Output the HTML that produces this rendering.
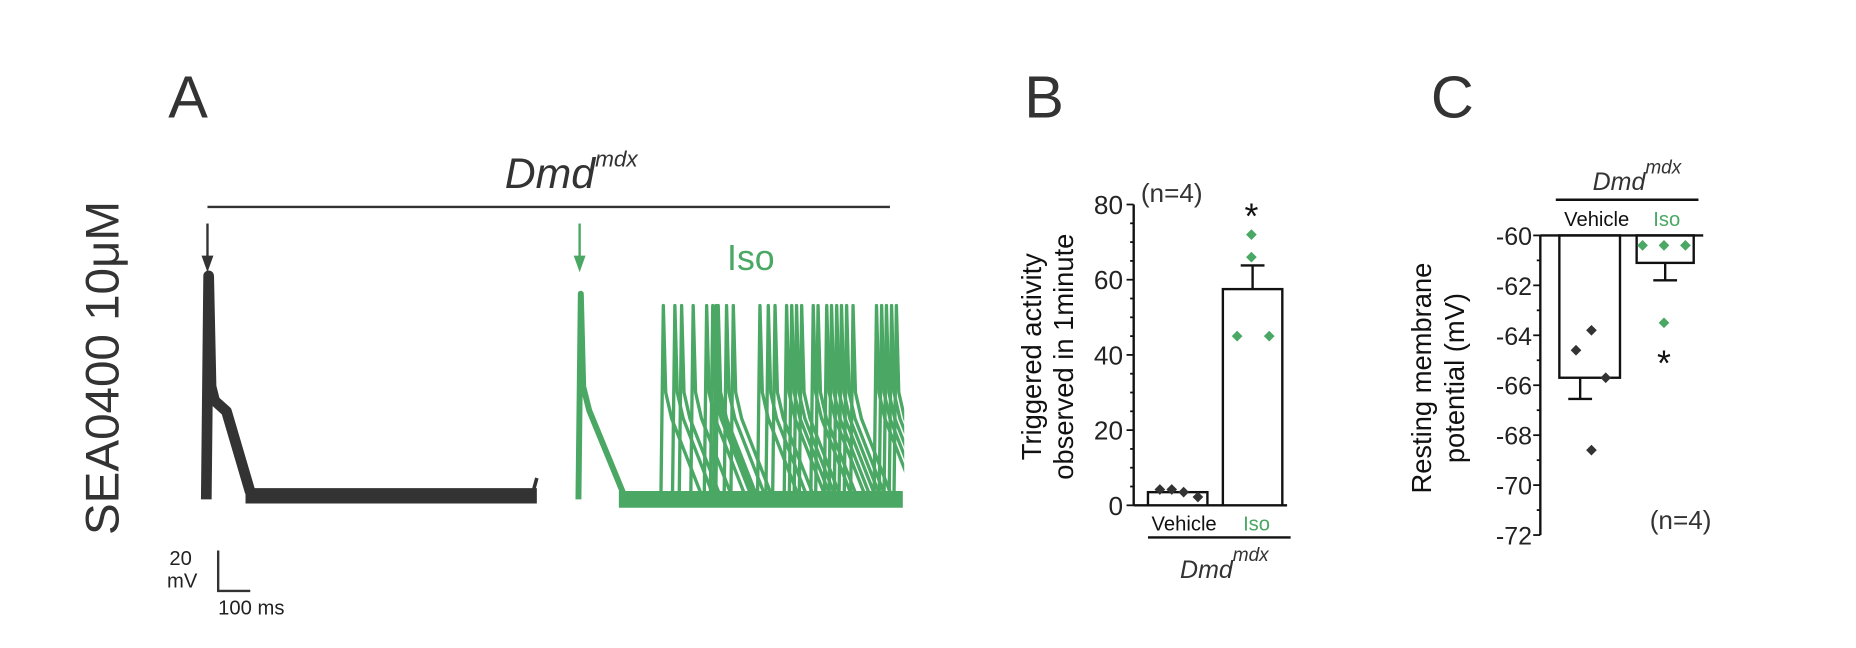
<!DOCTYPE html>
<html><head><meta charset="utf-8"><style>
html,body{margin:0;padding:0;background:#fff;}
svg{display:block;font-family:"Liberation Sans",Arial,sans-serif;}
</style></head><body>
<svg id="fig" width="1856" height="648" viewBox="0 0 1560 545">
<defs><clipPath id="isoClip"><rect x="480" y="200" width="280" height="240"/></clipPath></defs>
<g id="panelA">
  <text x="141" y="99" font-size="50" fill="#333">A</text>
  <text transform="translate(99,450) rotate(-90)" font-size="40" fill="#333">SEA0400 10μM</text>
  <text x="424" y="158" font-size="36" font-style="italic" fill="#333">Dmd<tspan font-size="19" dy="-18">mdx</tspan></text>
  <line x1="174" y1="174" x2="748" y2="174" stroke="#333" stroke-width="2"/>
  <g><line x1="174" y1="188" x2="174" y2="222" stroke="#333" stroke-width="2"/><path d="M169,215 L174,229 L179,215 Z" fill="#333"/></g>
  <g><line x1="487" y1="188" x2="487" y2="222" stroke="#4aa864" stroke-width="2"/><path d="M482,215 L487,229 L492,215 Z" fill="#4aa864"/></g>
  <text x="611" y="227" font-size="30" fill="#4aa864">Iso</text>
  <g id="traces"></g>
  <g>
    <path d="M183,463 L183,497 L210,497" fill="none" stroke="#333" stroke-width="2"/>
    <text x="142" y="475" font-size="17" fill="#222">20</text>
    <text x="140" y="494" font-size="17" fill="#222">mV</text>
    <text x="183" y="517" font-size="17" fill="#222">100 ms</text>
  </g>
</g>
<g id="panelB">
  <text x="861" y="99" font-size="50" fill="#333">B</text>
  <text transform="translate(875,300) rotate(-90)" font-size="23" text-anchor="middle" fill="#111">Triggered activity</text>
  <text transform="translate(902,300) rotate(-90)" font-size="23" text-anchor="middle" fill="#111">observed in 1minute</text>
  <text x="959" y="170" font-size="22" fill="#333">(n=4)</text>
  <g id="chartB"></g>
  <text x="968" y="446" font-size="17" fill="#111">Vehicle</text>
  <text x="1045" y="446" font-size="17" fill="#4aa864">Iso</text>
  <line x1="965" y1="452" x2="1085" y2="452" stroke="#111" stroke-width="2"/>
  <text x="992" y="486" font-size="21" font-style="italic" fill="#333">Dmd<tspan font-size="16" dy="-14">mdx</tspan></text>
</g>
<g id="panelC">
  <text x="1203" y="99" font-size="50" fill="#333">C</text>
  <text x="1339" y="160" font-size="21" font-style="italic" fill="#333">Dmd<tspan font-size="16" dy="-14">mdx</tspan></text>
  <line x1="1308" y1="168" x2="1428" y2="168" stroke="#111" stroke-width="2"/>
  <text x="1315" y="190" font-size="17" fill="#111">Vehicle</text>
  <text x="1390" y="190" font-size="17" fill="#4aa864">Iso</text>
  <text transform="translate(1203,318) rotate(-90)" font-size="23" text-anchor="middle" fill="#111">Resting membrane</text>
  <text transform="translate(1231,318) rotate(-90)" font-size="23" text-anchor="middle" fill="#111">potential (mV)</text>
  <text x="1387" y="445" font-size="22" fill="#333">(n=4)</text>
  <g id="chartC"></g>
</g>
</svg>
<script>
// ----- Panel A data -----
const isoSpikeTimesMs = [257,293,314,350,392,411,421,428,454,475,558,584,605,641,657,672,688,724,739,766,781,797,812,828,848,921,937,952,968,983];
const vehicleTraceEndMs = 1026;
const isoTraceEndMs = 1003;
// ----- Panel B data -----
const bCategories = ["Vehicle","Iso"];
const bMeans = [3.5, 57.5];
const bErrors = [0, 6.3];
const bPointsVehicle = [4.2, 4.2, 3.5, 2.2];
const bPointsIso = [45, 45, 66, 72];
const bTicks = [0,20,40,60,80];
// ----- Panel C data -----
const cCategories = ["Vehicle","Iso"];
const cMeans = [-65.7, -61.1];
const cErrors = [0.85, 0.7];
const cPointsVehicle = [-64.6, -63.8, -65.7, -68.6];
const cPointsIso = [-60.4, -60.4, -60.4, -63.5];
const cTicks = [-60,-62,-64,-66,-68,-70,-72];

const NS = "http://www.w3.org/2000/svg";
function mk(tag, attrs, parent){const e=document.createElementNS(NS,tag);for(const k in attrs)e.setAttribute(k,attrs[k]);parent.appendChild(e);return e;}

const tr = document.getElementById('traces');
const pxPerMs = 0.27;
const xV = t => 174 + t*pxPerMs;
const xI = t => 488 + t*pxPerMs;
const BLACK="#333", GREEN="#4aa864";
let p = mk('path',{d:`M173,420 L175,232 L177,325 L180,337 L190,346 L210,414`,fill:'none',stroke:BLACK,'stroke-width':9,'stroke-linejoin':'round'},tr);


p = mk('path',{d:`M206,417 L${xV(vehicleTraceEndMs)},417`,fill:'none',stroke:BLACK,'stroke-width':13},tr);


p = mk('path',{d:`M${xV(vehicleTraceEndMs)-3},413 L${xV(vehicleTraceEndMs)},402`,fill:'none',stroke:BLACK,'stroke-width':3},tr);
const gi = mk('g',{'clip-path':'url(#isoClip)'},tr);
p = mk('path',{d:`M486,420 L488,247 L490,325 L495,345 L525,418`,fill:'none',stroke:GREEN,'stroke-width':5,'stroke-linejoin':'round'},gi);


p = mk('path',{d:`M520,420 L${xI(isoTraceEndMs)},420`,fill:'none',stroke:GREEN,'stroke-width':14},gi);


isoSpikeTimesMs.forEach((t,i)=>{
  const x = xI(t);
  const s = mk('path',{d:`M${x-2},416 L${x},257 L${x+2},330 L${x+7},352 L${x+32},416`,fill:'none',stroke:GREEN,'stroke-width':2.8,'stroke-linejoin':'round'},gi);
  
  
});

const gB = document.getElementById('chartB');
const yB = v => 425 - v*(253/80);
const bBarX = [965, 1028], bBarW = 50;
mk('line',{x1:953,y1:yB(80),x2:953,y2:yB(0),stroke:'#111','stroke-width':2},gB);
mk('line',{x1:953,y1:425,x2:1082,y2:425,stroke:'#111','stroke-width':2},gB);
for(let v=0; v<=80; v+=5){ mk('line',{x1:953,y1:yB(v),x2:v%20===0?947:950,y2:yB(v),stroke:'#111','stroke-width':1.5},gB); }
bTicks.forEach(v=>{
  const t=mk('text',{x:944,y:yB(v)+8,'font-size':22,'text-anchor':'end',fill:'#222'},gB); t.textContent=v;
  
  
});
bMeans.forEach((m,i)=>{
  const cx = bBarX[i]+bBarW/2;
  if(bErrors[i]>0){ mk('line',{x1:cx,y1:yB(m),x2:cx,y2:yB(m+bErrors[i]),stroke:'#111','stroke-width':2},gB); mk('line',{x1:cx-10,y1:yB(m+bErrors[i]),x2:cx+10,y2:yB(m+bErrors[i]),stroke:'#111','stroke-width':2},gB);}
  const r=mk('rect',{x:bBarX[i],y:yB(m),width:bBarW,height:yB(0)-yB(m),fill:'#fff',stroke:'#111','stroke-width':2},gB);
  
  
});
function diamond(g,x,y,c,r){ return mk('path',{d:`M${x},${y-r} L${x+r},${y} L${x},${y+r} L${x-r},${y} Z`,fill:c},g); }
const bVx=[975,985,995,1007];
bPointsVehicle.forEach((v,i)=>{const d=diamond(gB,bVx[i],yB(v),BLACK,4.5);});
const bIx=[1040,1067,1052,1052];
bPointsIso.forEach((v,i)=>{const d=diamond(gB,bIx[i],yB(v),GREEN,4.5);});
let st=mk('text',{x:1052,y:192,'font-size':30,'text-anchor':'middle',fill:'#111'},gB); st.textContent='*';



const gC = document.getElementById('chartC');
const yC = v => 198 + (-60 - v)*21;
const cBarX=[1311,1376], cBarW=[51,48];
mk('line',{x1:1295,y1:yC(-60),x2:1295,y2:yC(-72),stroke:'#111','stroke-width':2},gC);
mk('line',{x1:1295,y1:198,x2:1432,y2:198,stroke:'#111','stroke-width':2},gC);
for(let v=-60; v>=-72; v-=1){ mk('line',{x1:1295,y1:yC(v),x2:v%2===0?1289:1292,y2:yC(v),stroke:'#111','stroke-width':1.5},gC); }
cTicks.forEach(v=>{
  const t=mk('text',{x:1288,y:yC(v)+8,'font-size':21,'text-anchor':'end',fill:'#222'},gC); t.textContent=v;
  
  
});
cMeans.forEach((m,i)=>{
  const cx=cBarX[i]+cBarW[i]/2 - (i===0?8:0);
  mk('line',{x1:cx,y1:yC(m),x2:cx,y2:yC(m-cErrors[i]),stroke:'#111','stroke-width':2},gC);
  mk('line',{x1:cx-10,y1:yC(m-cErrors[i]),x2:cx+10,y2:yC(m-cErrors[i]),stroke:'#111','stroke-width':2},gC);
  const r=mk('rect',{x:cBarX[i],y:198,width:cBarW[i],height:yC(m)-198,fill:'none',stroke:'#111','stroke-width':2},gC);
  
  
});
const cVx=[1325,1338,1350,1338];
cPointsVehicle.forEach((v,i)=>{const d=diamond(gC,cVx[i],yC(v),BLACK,4.5);});
const cIx=[1381,1399,1417,1399];
cPointsIso.forEach((v,i)=>{const d=diamond(gC,cIx[i],yC(v),GREEN,4.5);});
st=mk('text',{x:1399,y:316,'font-size':30,'text-anchor':'middle',fill:'#111'},gC); st.textContent='*';


</script>
</body></html>
